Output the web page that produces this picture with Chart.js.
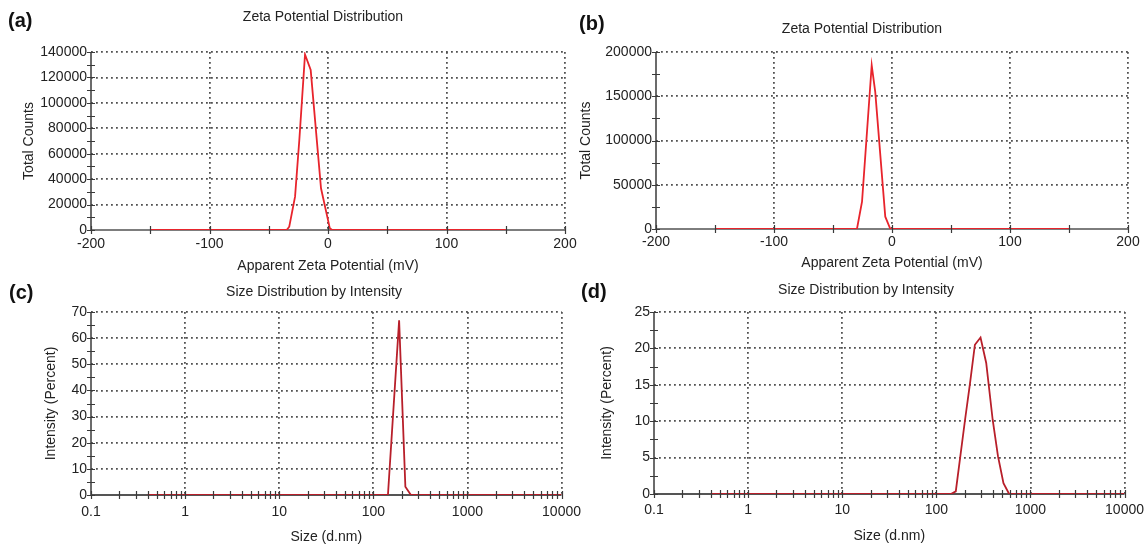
<!DOCTYPE html>
<html>
<head>
<meta charset="utf-8">
<title>Zeta potential and size distribution</title>
<script src="https://cdn.jsdelivr.net/npm/chart.js@4.4.1/dist/chart.umd.min.js"></script>
<style>
  body { margin: 0; background: #fff; font-family: "Liberation Sans", Arial, sans-serif; }
  #page { position: relative; width: 1146px; height: 546px; overflow: hidden; }
  canvas { position: absolute; }
  .tag { position: absolute; font-weight: bold; font-size: 20px; line-height: 22px; color: #111; }
</style>
</head>
<body>
<div id="page">
  <canvas id="chart-a" width="585" height="275" style="left:0;top:0"></canvas>
  <canvas id="chart-b" width="571" height="275" style="left:575px;top:0"></canvas>
  <canvas id="chart-c" width="590" height="271" style="left:0;top:275px"></canvas>
  <canvas id="chart-d" width="577" height="271" style="left:575px;top:275px"></canvas>
  <div class="tag" style="left:8px;top:9px">(a)</div>
  <div class="tag" style="left:579px;top:12px">(b)</div>
  <div class="tag" style="left:9px;top:281px">(c)</div>
  <div class="tag" style="left:581px;top:280px">(d)</div>
</div>
<script>
// (a) zeta potential, sample 1
const zetaA_mV = [-150, -34.9, -32.7, -27.8, -24.2, -19.4, -14.6, -5.9, 1.5, 3.5, 150];
const zetaA_counts = [0, 0, 2600, 26200, 70800, 138000, 125800, 32800, 1500, 0, 0];

// (b) zeta potential, sample 2
const zetaB_mV = [-150, -29.7, -25.4, -17.2, -14.2, -5.7, -1.4, 150];
const zetaB_counts = [0, 0, 30800, 185000, 155000, 13900, 0, 0];

// (c) size distribution, sample 1
const sizeC_nm = [0.4, 143, 188, 219, 251, 10000];
const sizeC_pct = [0, 0, 66.8, 3.2, 0, 0];

// (d) size distribution, sample 2
const sizeD_nm = [0.4, 143, 161, 202, 228, 257, 295, 339, 397, 452, 517, 594, 10000];
const sizeD_pct = [0, 0, 0.36, 10.2, 15.2, 20.5, 21.5, 18.0, 10.2, 5.2, 1.5, 0, 0];

// tick labels
const zetaTicks = [-200, -100, 0, 100, 200];
const zetaMarks = [-200, -150, -100, -50, 0, 50, 100, 150, 200];
const countTicksA = [0, 20000, 40000, 60000, 80000, 100000, 120000, 140000];
const countTicksB = [0, 50000, 100000, 150000, 200000];
const sizeTicks = [0.1, 1, 10, 100, 1000, 10000];
const pctTicksC = [0, 10, 20, 30, 40, 50, 60, 70];
const pctTicksD = [0, 5, 10, 15, 20, 25];

const FONT = "'Liberation Sans', Arial, sans-serif";
const TEXT = "#222";

// minor tick positions along axes
function halfSteps(ticks) {
  const out = [];
  for (let i = 0; i < ticks.length; i++) {
    out.push(ticks[i]);
    if (i < ticks.length - 1) out.push((ticks[i] + ticks[i + 1]) / 2);
  }
  return out;
}
const logMarks = [];
for (let d = -1; d < 4; d++) {
  for (let k = 1; k < 10; k++) logMarks.push(k * Math.pow(10, d));
}
logMarks.push(10000);

// axis lines, small tick marks and the chart caption
const axisMarks = {
  id: "axisMarks",
  beforeDatasetsDraw(chart, args, opts) {
    const { ctx, chartArea: a } = chart;
    ctx.save();
    ctx.strokeStyle = opts.xLine;
    ctx.lineWidth = 2;
    ctx.beginPath();
    ctx.moveTo(a.left, a.bottom);
    ctx.lineTo(a.right, a.bottom);
    ctx.stroke();
    ctx.strokeStyle = "#3a3a3a";
    ctx.lineWidth = 1.5;
    ctx.beginPath();
    ctx.moveTo(a.left, a.top);
    ctx.lineTo(a.left, a.bottom + 1);
    ctx.stroke();
    ctx.restore();
  },
  afterDatasetsDraw(chart, args, opts) {
    const { ctx, chartArea: a, scales: { x, y } } = chart;
    ctx.save();
    ctx.strokeStyle = "#3a3a3a";
    ctx.lineWidth = 1.2;
    ctx.beginPath();
    opts.xMarks.forEach(v => {
      const px = Math.round(x.getPixelForValue(v)) + 0.5;
      ctx.moveTo(px, a.bottom - 4);
      ctx.lineTo(px, a.bottom + 4);
    });
    opts.yMarks.forEach(v => {
      const py = Math.round(y.getPixelForValue(v)) + 0.5;
      ctx.moveTo(a.left - 4, py);
      ctx.lineTo(a.left + 4, py);
    });
    ctx.stroke();
    // caption
    ctx.fillStyle = TEXT;
    ctx.font = "14px " + FONT;
    ctx.textAlign = "center";
    ctx.textBaseline = "middle";
    ctx.fillText(opts.title, opts.titleX, opts.titleY);
    ctx.restore();
  }
};

function buildChart(id, o) {
  const ctx = document.getElementById(id).getContext("2d");
  const gridColor = min => c => (c.tick && c.tick.value === min ? "rgba(0,0,0,0)" : "#505050");
  return new Chart(ctx, {
    type: "line",
    data: {
      datasets: [{
        data: o.xs.map((x, i) => ({ x: x, y: o.ys[i] })),
        borderColor: o.color,
        borderWidth: 1.8,
        pointRadius: 0,
        tension: 0
      }]
    },
    options: {
      responsive: false,
      animation: false,
      events: [],
      layout: { padding: o.pad },
      plugins: {
        legend: { display: false },
        tooltip: { enabled: false },
        title: { display: false },
        axisMarks: {
          xMarks: o.xMarks, yMarks: o.yMarks, xLine: o.xLine,
          title: o.title, titleX: o.titleX, titleY: o.titleY
        }
      },
      scales: {
        x: {
          type: o.xType,
          min: o.xTicks[0],
          max: o.xTicks[o.xTicks.length - 1],
          afterBuildTicks: s => { s.ticks = o.xTicks.map(v => ({ value: v })); },
          afterFit: s => { s.height = o.xh; },
          ticks: {
            callback: v => String(v),
            color: TEXT, font: { family: FONT, size: 14 },
            padding: o.xPad, maxRotation: 0, autoSkip: false
          },
          grid: { color: gridColor(o.xTicks[0]), lineWidth: 1.8, drawTicks: false },
          border: { display: false, dash: [1.8, 3.2] },
          title: { display: true, text: o.xTitle, color: TEXT, font: { family: FONT, size: 14 }, padding: 0 }
        },
        y: {
          type: "linear",
          min: o.yTicks[0],
          max: o.yTicks[o.yTicks.length - 1],
          afterBuildTicks: s => { s.ticks = o.yTicks.map(v => ({ value: v })); },
          afterFit: s => { s.width = o.yw; },
          ticks: {
            callback: v => String(v),
            color: TEXT, font: { family: FONT, size: 14 },
            padding: 4, autoSkip: false
          },
          grid: { color: gridColor(o.yTicks[0]), lineWidth: 1.8, drawTicks: false },
          border: { display: false, dash: [1.8, 3.2] },
          title: { display: true, text: o.yTitle, color: TEXT, font: { family: FONT, size: 14 }, padding: 0 }
        }
      }
    },
    plugins: [axisMarks]
  });
}

buildChart("chart-a", {
  xs: zetaA_mV, ys: zetaA_counts, color: "#e8242c", xLine: "#7d7d7d",
  xType: "linear", xTicks: zetaTicks, xMarks: zetaMarks,
  yTicks: countTicksA, yMarks: halfSteps(countTicksA),
  xTitle: "Apparent Zeta Potential (mV)", yTitle: "Total Counts",
  title: "Zeta Potential Distribution", titleX: 323, titleY: 17,
  pad: { left: 21, right: 20, top: 52, bottom: 0 }, yw: 70, xh: 45, xPad: 6
});

buildChart("chart-b", {
  xs: zetaB_mV, ys: zetaB_counts, color: "#e8242c", xLine: "#7d7d7d",
  xType: "linear", xTicks: zetaTicks, xMarks: zetaMarks,
  yTicks: countTicksB, yMarks: halfSteps(countTicksB),
  xTitle: "Apparent Zeta Potential (mV)", yTitle: "Total Counts",
  title: "Zeta Potential Distribution", titleX: 287, titleY: 29,
  pad: { left: 3, right: 18, top: 52, bottom: 3 }, yw: 78, xh: 43, xPad: 5
});

buildChart("chart-c", {
  xs: sizeC_nm, ys: sizeC_pct, color: "#b81f2a", xLine: "#555",
  xType: "logarithmic", xTicks: sizeTicks, xMarks: logMarks,
  yTicks: pctTicksC, yMarks: halfSteps(pctTicksC),
  xTitle: "Size (d.nm)", yTitle: "Intensity (Percent)",
  title: "Size Distribution by Intensity", titleX: 314, titleY: 17,
  pad: { left: 43, right: 25, top: 37, bottom: 0 }, yw: 48, xh: 51, xPad: 9
});

buildChart("chart-d", {
  xs: sizeD_nm, ys: sizeD_pct, color: "#b81f2a", xLine: "#555",
  xType: "logarithmic", xTicks: sizeTicks, xMarks: logMarks,
  yTicks: pctTicksD, yMarks: halfSteps(pctTicksD),
  xTitle: "Size (d.nm)", yTitle: "Intensity (Percent)",
  title: "Size Distribution by Intensity", titleX: 291, titleY: 15,
  pad: { left: 24, right: 21, top: 37, bottom: 1 }, yw: 55, xh: 51, xPad: 8
});
</script>
</body>
</html>
